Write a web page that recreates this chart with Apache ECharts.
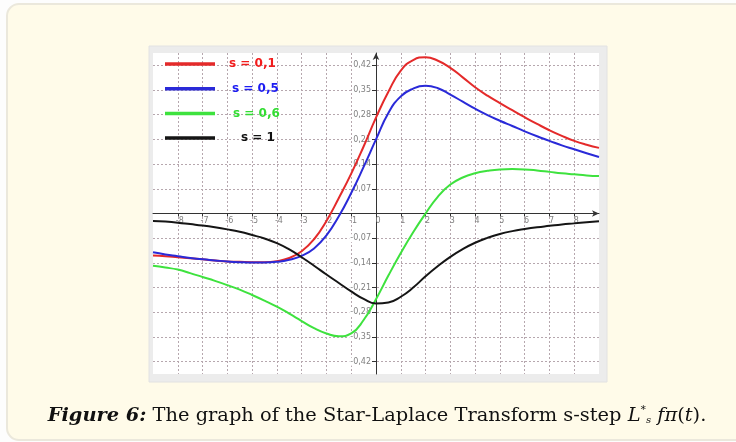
<!DOCTYPE html>
<html>
<head>
<meta charset="utf-8">
<script src="https://cdn.jsdelivr.net/npm/echarts@6/dist/echarts.min.js"></script>
<style>
html,body{margin:0;padding:0;background:#fdfdfd;}
#c{width:736px;height:442px;}
</style>
</head>
<body>
<div id="c"></div>
<script>
// ---- data ----
var xs = [-9,-8.5,-8,-7.5,-7,-6.5,-6,-5.5,-5,-4.5,-4,-3.5,-3,-2.5,-2,-1.5,-1,-0.5,0,0.5,1,1.5,2,2.5,3,3.5,4,4.5,5,5.5,6,6.5,7,7.5,8,8.5,9];
var sNames = ['s = 0,1','s = 0,5','s = 0,6','s = 1'];
var s01 = [-0.119,-0.121,-0.124,-0.127,-0.130,-0.133,-0.136,-0.137,-0.138,-0.138,-0.135,-0.126,-0.107,-0.073,-0.021,0.044,0.113,0.190,0.272,0.345,0.405,0.435,0.443,0.433,0.413,0.386,0.358,0.334,0.313,0.293,0.273,0.254,0.236,0.220,0.206,0.195,0.186];
var s05 = [-0.110,-0.116,-0.121,-0.126,-0.130,-0.133,-0.136,-0.138,-0.139,-0.139,-0.137,-0.131,-0.120,-0.099,-0.062,-0.008,0.058,0.132,0.210,0.285,0.332,0.354,0.362,0.355,0.337,0.317,0.297,0.279,0.263,0.248,0.233,0.219,0.206,0.193,0.182,0.171,0.160];
var s06 = [-0.148,-0.153,-0.159,-0.169,-0.180,-0.191,-0.203,-0.216,-0.231,-0.247,-0.264,-0.284,-0.305,-0.325,-0.340,-0.348,-0.340,-0.302,-0.243,-0.176,-0.112,-0.053,0.000,0.048,0.082,0.102,0.114,0.121,0.125,0.126,0.125,0.122,0.118,0.114,0.111,0.108,0.106];
var s1  = [-0.021,-0.023,-0.026,-0.030,-0.034,-0.039,-0.045,-0.052,-0.061,-0.071,-0.084,-0.102,-0.124,-0.148,-0.173,-0.197,-0.221,-0.242,-0.255,-0.252,-0.236,-0.210,-0.178,-0.149,-0.123,-0.101,-0.083,-0.069,-0.058,-0.050,-0.044,-0.039,-0.035,-0.031,-0.028,-0.025,-0.022];
var xTicks = [-8,-7,-6,-5,-4,-3,-2,-1,0,1,2,3,4,5,6,7,8];
var yTicks = [-0.42,-0.35,-0.28,-0.21,-0.14,-0.07,0.07,0.14,0.21,0.28,0.35,0.42];

var lineColors = ['#e42a2a','#2a2ad8','#3ee23e','#151515'];
var textColors = ['#f21c1c','#1c1cf2','#33dd33','#111111'];
var textPads = [9,12,13,21];
var seriesVals = [s01,s05,s06,s1];

function pairs(ys){ return xs.map(function(x,i){ return [x, ys[i]]; }); }
function fmt(v){ var s = (Math.abs(v)).toFixed(2).replace('.', ','); return (v<0?'-':'') + s; }

var G = {left:153, right:137, top:53, bottom:68};
var W = 736, H = 442;
var plotW = W - G.left - G.right, plotH = H - G.top - G.bottom;
var xMin = -9, xMax = 9, yMin = -0.455, yMax = 0.455;
// offsets so the axes cross at the origin (computed from the scale)
var yAxisOffset = -plotW * (0 - xMin) / (xMax - xMin);
var xAxisOffset = -plotH * (0 - yMin) / (yMax - yMin);

var chart = echarts.init(document.getElementById('c'), null, {renderer:'canvas'});
var series = seriesVals.map(function(ys,i){
  return {
    name: sNames[i], type:'line', data: pairs(ys), smooth: 0.5, showSymbol:false,
    lineStyle:{color: lineColors[i], width:2}, itemStyle:{color: lineColors[i]}, z: 5
  };
});

chart.setOption({
  animation:false,
  grid:{left:G.left, right:G.right, top:G.top, bottom:G.bottom, show:true, backgroundColor:'#ffffff', borderWidth:0},
  legend:{
    orient:'vertical', left:165, top:57, padding:0, itemWidth:50, itemHeight:3.5, itemGap:10.7, icon:'rect',
    data: sNames.map(function(n,i){ return {name:n, textStyle:{color:textColors[i], padding:[0,0,0,textPads[i]]}}; }),
    textStyle:{fontFamily:'DejaVu Sans', fontWeight:'bold', fontSize:12, lineHeight:14}
  },
  xAxis:{
    type:'value', min:xMin, max:xMax, interval:0.5, position:'bottom', offset:xAxisOffset,
    axisLine:{onZero:false, lineStyle:{color:'#333', width:1}, symbol:['none','arrow'], symbolSize:[5,7]},
    axisTick:{show:true, customValues:xTicks, length:3, inside:false, lineStyle:{color:'#333'}},
    axisLabel:{customValues:xTicks, formatter:function(v){return String(v);}, fontSize:8, fontFamily:'DejaVu Sans', color:'#808080', margin:3, padding:[0,0,0,4]},
    splitLine:{show:true, lineStyle:{color:'#b6a7ae', type:[2,2], width:1}}
  },
  yAxis:{
    type:'value', min:yMin, max:yMax, interval:0.035, position:'left', offset:yAxisOffset,
    axisLine:{onZero:false, lineStyle:{color:'#333', width:1}, symbol:['none','arrow'], symbolSize:[5,7]},
    axisTick:{show:true, customValues:yTicks, length:4, inside:false, lineStyle:{color:'#333'}},
    axisLabel:{customValues:yTicks, formatter:fmt, fontSize:8, fontFamily:'DejaVu Sans', color:'#808080', margin:4, backgroundColor:'#ffffff', padding:[0,1]},
    splitLine:{show:true, lineStyle:{color:'#b6a7ae', type:[2,2], width:1}}
  },
  graphic:[
    {type:'rect', z:-20, silent:true, shape:{x:7, y:4, width:760, height:436, r:12}, style:{fill:'#fffbe9', stroke:'#ebe8dc', lineWidth:2}},
    {type:'rect', z:-10, silent:true, shape:{x:149, y:46, width:458, height:336}, style:{fill:'#ececec', stroke:'#e2e2e2', lineWidth:1}},
    {type:'text', z:100, silent:true, x:377, y:415,
     style:{
       text:'{b|Figure 6:}{r| The graph of the Star-Laplace Transform s-step }{i|L}{sup|*}{sub|s}{i| fπ}{r|(}{i|t}{r|).}',
       align:'center', verticalAlign:'middle',
       rich:{
         b:{fontFamily:'DejaVu Serif', fontSize:19.4, fontWeight:'bold', fontStyle:'italic', fill:'#111', verticalAlign:'bottom'},
         r:{fontFamily:'DejaVu Serif', fontSize:19.4, fill:'#111', verticalAlign:'bottom'},
         i:{fontFamily:'DejaVu Serif', fontSize:19.4, fontStyle:'italic', fill:'#111', verticalAlign:'bottom'},
         sup:{fontFamily:'DejaVu Sans', fontSize:11, fill:'#111', verticalAlign:'bottom', padding:[0,0,9,0]},
         sub:{fontFamily:'DejaVu Serif', fontSize:10, fontStyle:'italic', fill:'#111', verticalAlign:'bottom'}
       }
     }}
  ],
  series: series
});
</script>
</body>
</html>
